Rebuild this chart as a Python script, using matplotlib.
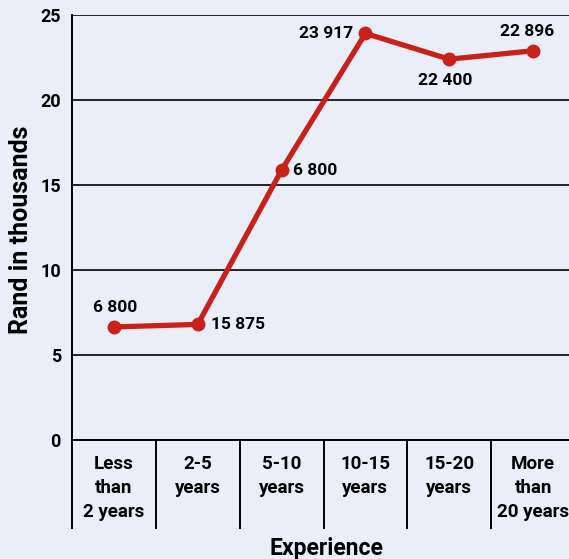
import matplotlib
matplotlib.use("Agg")
import matplotlib.pyplot as plt

# Data
categories = ["Less\nthan\n2 years", "2-5\nyears", "5-10\nyears", "10-15\nyears",
              "15-20\nyears", "More\nthan\n20 years"]
values = [6.65, 6.8, 15.875, 23.917, 22.4, 22.896]
point_labels = ["6 800", "15 875", "6 800", "23 917", "22 400", "22 896"]
y_ticks = [0, 5, 10, 15, 20, 25]

plt.rcParams["font.family"] = ["Roboto", "DejaVu Sans"]
plt.rcParams["font.weight"] = "bold"

BG = "#e9eef8"
RED = "#c8201a"

W, H = 569, 559
fig = plt.figure(figsize=(W / 100, H / 100), dpi=100, facecolor=BG)
left, right, top, bottom = 72, 575, 15, 440
ax = fig.add_axes([left / W, (H - bottom) / H, (right - left) / W, (bottom - top) / H])
ax.set_facecolor(BG)

x = list(range(len(values)))
ax.plot(x, values, color=RED, lw=3.8, marker="o", ms=9, zorder=3, solid_capstyle="round")

ax.set_xlim(-0.5, len(values) - 0.5)
ax.set_ylim(0, 25)
ax.set_yticks(y_ticks)
ax.yaxis.grid(True, color="black", lw=1.2)
ax.set_axisbelow(True)
for s in ("right", "top"):
    ax.spines[s].set_visible(False)
ax.spines["left"].set_linewidth(1.4)
ax.spines["bottom"].set_linewidth(1.4)
ax.tick_params(axis="y", length=0, pad=8, labelsize=13)

# category dividers below the axis
ax.set_xticks([i - 0.5 for i in range(len(values) + 1)], minor=True)
ax.tick_params(axis="x", which="minor", length=64, width=1.4, direction="out")
ax.set_xticks(x)
ax.set_xticklabels(categories, fontsize=13.5, linespacing=1.45, va="top")
ax.tick_params(axis="x", which="major", length=0, pad=10.5)

fig.text(21 / W, 1 - 230 / H, "Rand in thousands", rotation=90, ha="center", va="center",
         fontsize=18, fontweight="bold")
fig.text(326 / W, 1 - 548 / H, "Experience", ha="center", va="center",
         fontsize=16.5, fontweight="bold")

# value labels
offs = [
    (1, 14, "center", "center"),
    (9.5, 0, "left", "center"),
    (8.5, 0, "left", "center"),
    (-9, 0, "right", "center"),
    (-3, -15, "center", "center"),
    (-4, 14, "center", "center"),
]
for xi, v, t, (dx, dy, ha, va) in zip(x, values, point_labels, offs):
    ax.annotate(t, (xi, v), xytext=(dx, dy), textcoords="offset points",
                ha=ha, va=va, fontsize=12.5, fontweight="bold")

fig.savefig("out.png", dpi=100, facecolor=BG)
